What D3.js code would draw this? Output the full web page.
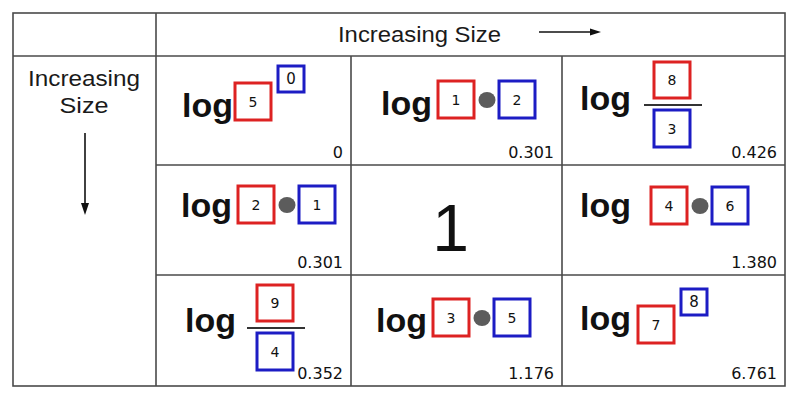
<!DOCTYPE html>
<html>
<head>
<meta charset="utf-8">
<script src="https://cdn.jsdelivr.net/npm/d3@7"></script>
<style>
html,body{margin:0;padding:0;background:#fff;}
svg{display:block;}
</style>
</head>
<body>
<svg id="chart" width="800" height="400"></svg>
<script>
// ---- data ----
const headerText = "Increasing Size";
const sideText = ["Increasing", "Size"];
const cellRows = [0, 0, 0, 1, 1, 2, 2, 2];
const cellCols = [0, 1, 2, 0, 2, 0, 1, 2];
const cellOps = ["power", "product", "quotient", "product", "product", "quotient", "product", "power"];
const redNums = [5, 1, 8, 2, 4, 9, 3, 7];
const blueNums = [0, 2, 3, 1, 6, 4, 5, 8];
const results = ["0", "0.301", "0.426", "0.301", "1.380", "0.352", "1.176", "6.761"];
const centerValue = "1";

// ---- layout (positions relative to each cell) ----
const logAnchor = [[28, 61], [32, 59], [20, 54], [27, 52], [20, 52], [31, 57], [27, 57], [20, 55]];
const boxAnchor = [[79, 27], [87, 25], [92, 6], [82, 21], [89, 22], [101, 10], [82, 24], [76, 31]];

const svg = d3.select("#chart");
const colEdge = d3.scaleOrdinal().domain([0, 1, 2, 3]).range([156, 351, 562, 785]);
const rowEdge = d3.scaleOrdinal().domain([0, 1, 2, 3]).range([56, 165, 275, 386]);
const tableLeft = 13, tableTop = 13;

const RED = "#dd2222", BLUE = "#1c1cc4", GRID = "#4a4a4a";
const numFont = "'DejaVu Sans', Verdana, sans-serif";
const sansFont = "'Liberation Sans', Arial, sans-serif";

svg.append("rect").attr("width", 800).attr("height", 400).attr("fill", "#fff");

// ---- grid ----
const g = svg.append("g").attr("stroke", GRID).attr("stroke-width", 1.6).attr("fill", "none");
g.append("rect").attr("x", tableLeft).attr("y", tableTop)
  .attr("width", colEdge(3) - tableLeft).attr("height", rowEdge(3) - tableTop);
g.append("line").attr("x1", tableLeft).attr("x2", colEdge(3)).attr("y1", rowEdge(0)).attr("y2", rowEdge(0));
g.append("line").attr("x1", colEdge(0)).attr("x2", colEdge(0)).attr("y1", tableTop).attr("y2", rowEdge(3));
[1, 2].forEach(i => {
  g.append("line").attr("x1", colEdge(i)).attr("x2", colEdge(i)).attr("y1", rowEdge(0)).attr("y2", rowEdge(3));
  g.append("line").attr("x1", colEdge(0)).attr("x2", colEdge(3)).attr("y1", rowEdge(i)).attr("y2", rowEdge(i));
});

// ---- header ----
svg.append("text").attr("x", 338).attr("y", 42)
  .attr("font-family", sansFont).attr("font-size", 22).attr("fill", "#1a1a1a")
  .attr("textLength", 163).attr("lengthAdjust", "spacingAndGlyphs")
  .text(headerText);
svg.append("line").attr("x1", 539).attr("x2", 591).attr("y1", 32).attr("y2", 32)
  .attr("stroke", "#111").attr("stroke-width", 1.6);
svg.append("path").attr("d", "M590,28.5 L601,32 L590,35.5 Z").attr("fill", "#111");

// ---- side label ----
const sideWidths = [112, 49];
sideText.forEach((t, i) => {
  svg.append("text").attr("x", 84 - sideWidths[i] / 2).attr("y", 86 + i * 27)
    .attr("font-family", sansFont).attr("font-size", 22).attr("fill", "#1a1a1a")
    .attr("textLength", sideWidths[i]).attr("lengthAdjust", "spacingAndGlyphs")
    .text(t);
});
svg.append("line").attr("x1", 85).attr("x2", 85).attr("y1", 133).attr("y2", 204)
  .attr("stroke", "#111").attr("stroke-width", 1.6);
svg.append("path").attr("d", "M81,203 L85,215 L89,203 Z").attr("fill", "#111");

// ---- cells ----
function box(parent, x, y, w, h, color, num, fs) {
  parent.append("rect").attr("x", x).attr("y", y).attr("width", w).attr("height", h)
    .attr("fill", "#fff").attr("stroke", color).attr("stroke-width", 3);
  parent.append("text").attr("x", x + w / 2).attr("y", y + h / 2)
    .attr("text-anchor", "middle").attr("dominant-baseline", "central")
    .attr("font-family", numFont).attr("font-size", fs).attr("fill", "#111")
    .text(num);
}

cellOps.forEach((op, i) => {
  const r = cellRows[i], c = cellCols[i];
  const x0 = colEdge(c), y0 = rowEdge(r), x1 = colEdge(c + 1), y1 = rowEdge(r + 1);
  const cg = svg.append("g");
  // "log"
  cg.append("text").attr("x", x0 + logAnchor[i][0] - 2).attr("y", y0 + logAnchor[i][1])
    .attr("font-family", sansFont).attr("font-weight", "bold").attr("font-size", 34)
    .attr("fill", "#111").text("log");
  const bx = x0 + boxAnchor[i][0], by = y0 + boxAnchor[i][1];
  if (op === "power") {
    box(cg, bx, by, 36, 37, RED, redNums[i], 14);
    box(cg, bx + 43, by - 17, 26, 26, BLUE, blueNums[i], 15);
  } else if (op === "product") {
    box(cg, bx, by, 36, 37, RED, redNums[i], 14);
    cg.append("ellipse").attr("cx", bx + 49).attr("cy", by + 19).attr("rx", 8.5).attr("ry", 8)
      .attr("fill", "#5c5c5c");
    box(cg, bx + 61, by, 36, 37, BLUE, blueNums[i], 14);
  } else {
    box(cg, bx, by, 36, 36, RED, redNums[i], 14);
    cg.append("line").attr("x1", bx - 10).attr("x2", bx + 48).attr("y1", by + 43).attr("y2", by + 43)
      .attr("stroke", "#333").attr("stroke-width", 2);
    box(cg, bx, by + 48, 36, 37, BLUE, blueNums[i], 14);
  }
  // result value
  cg.append("text").attr("x", x1 - 8).attr("y", y1 - 7)
    .attr("text-anchor", "end").attr("font-family", numFont).attr("font-size", 16)
    .attr("fill", "#111").text(results[i]);
});

// center cell
svg.append("text")
  .attr("x", (colEdge(1) + colEdge(2)) / 2 - 6).attr("y", 251)
  .attr("text-anchor", "middle").attr("font-family", sansFont).attr("font-size", 66)
  .attr("fill", "#111").text(centerValue);
</script>
</body>
</html>
